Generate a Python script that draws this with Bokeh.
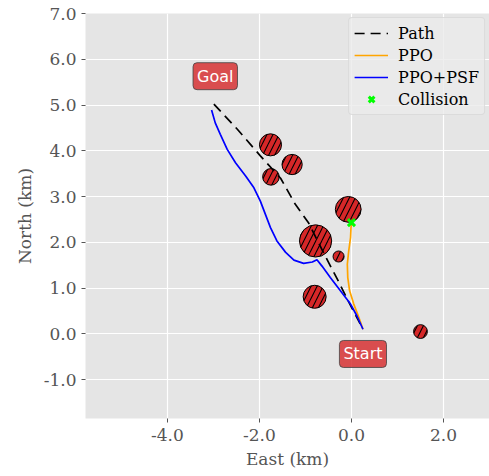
from bokeh.plotting import figure
from bokeh.models import FixedTicker, NumeralTickFormatter, Label, Legend, LegendItem, ColumnDataSource, Range1d
from bokeh.embed import file_html
from bokeh.resources import INLINE

# Data
path_e = [-2.99, -2.48, -1.98, -1.54, -1.22, -0.93, -0.58, -0.31, -0.06, 0.25]
path_n = [5.02, 4.47, 3.89, 3.40, 2.83, 2.42, 1.72, 1.20, 0.70, 0.10]

ppo_e = [0.25, 0.16, 0.05, -0.04, -0.08, -0.09, -0.06, -0.02, -0.01, 0.0]
ppo_n = [0.10, 0.36, 0.65, 0.94, 1.23, 1.52, 1.81, 2.10, 2.32, 2.43]

psf_e = [-3.04, -2.96, -2.85, -2.70, -2.52, -2.30, -2.12, -1.98, -1.87, -1.76, -1.62, -1.43,
         -1.25, -1.04, -0.85, -0.75, -0.64, -0.46, -0.24, -0.02, 0.12, 0.25]
psf_n = [4.89, 4.61, 4.36, 4.03, 3.74, 3.45, 3.19, 2.90, 2.61, 2.32, 2.03, 1.78,
         1.61, 1.54, 1.57, 1.62, 1.48, 1.23, 0.94, 0.65, 0.39, 0.10]

collision_e = [0.0]
collision_n = [2.43]

obs_e = [-1.76, -1.29, -1.75, -0.07, -0.78, -0.28, -0.80, 1.50]
obs_n = [4.13, 3.70, 3.43, 2.72, 2.03, 1.69, 0.81, 0.05]
obs_r = [0.24, 0.22, 0.18, 0.28, 0.35, 0.12, 0.25, 0.15]

goal = (-2.96, 5.63)
start = (0.25, -0.44)

x_ticks = [-4, -2, 0, 2]
y_ticks = [-1, 0, 1, 2, 3, 4, 5, 6, 7]

SERIF = "DejaVu Serif"
GRAY = "#555555"

p = figure(frame_width=404, frame_height=405, output_backend="svg", toolbar_location=None,
           x_range=Range1d(-5.78, 3.0), y_range=Range1d(-1.85, 7.0),
           min_border_left=85, min_border_right=0, min_border_top=13, min_border_bottom=58)
p.background_fill_color = "#E5E5E5"
p.border_fill_color = "white"
p.outline_line_color = None
p.grid.grid_line_color = "white"
p.grid.grid_line_width = 1.2

for ax in (p.xaxis, p.yaxis):
    ax.axis_line_color = None
    ax.major_tick_line_color = GRAY
    ax.major_tick_out = 4
    ax.major_tick_in = 0
    ax.minor_tick_line_color = None
    ax.major_label_text_font = SERIF
    ax.major_label_text_font_size = "17px"
    ax.major_label_text_color = GRAY
    ax.axis_label_text_font = SERIF
    ax.axis_label_text_font_size = "17px"
    ax.axis_label_text_color = GRAY
    ax.axis_label_text_font_style = "normal"
    ax.formatter = NumeralTickFormatter(format="0.0")

p.xaxis.ticker = FixedTicker(ticks=x_ticks)
p.yaxis.ticker = FixedTicker(ticks=y_ticks)
p.xgrid.ticker = FixedTicker(ticks=x_ticks)
p.ygrid.ticker = FixedTicker(ticks=y_ticks)
p.xaxis.axis_label = "East (km)"
p.yaxis.axis_label = "North (km)"
p.xaxis.major_label_standoff = 6
p.xaxis.axis_label_standoff = 5
p.yaxis.axis_label_standoff = 6

src = ColumnDataSource(dict(x=obs_e, y=obs_n, r=obs_r))
p.circle(x="x", y="y", radius="r", source=src, fill_color="#d62728", line_color="black",
         line_width=1, hatch_pattern="/", hatch_color="black", hatch_scale=12, hatch_weight=1.1)

r_path = p.line(path_e, path_n, line_color="black", line_width=1.7, line_dash="10 6")
r_ppo = p.line(ppo_e, ppo_n, line_color="orange", line_width=1.7)
r_psf = p.line(psf_e, psf_n, line_color="blue", line_width=1.7)
r_col = p.scatter(collision_e, collision_n, marker="x", size=10, line_color="#00ff00", line_width=3)

for txt, (lx, ly) in (("Goal", goal), ("Start", start)):
    p.add_layout(Label(x=lx, y=ly, text=txt, text_align="center", text_baseline="middle",
                       text_color="white", text_font="DejaVu Sans", text_font_size="16px",
                       background_fill_color="#d62728", background_fill_alpha=0.8,
                       border_line_color="#444444", border_line_alpha=0.8, border_radius=4,
                       padding=4))

legend = Legend(items=[
    LegendItem(label="Path", renderers=[r_path]),
    LegendItem(label="PPO", renderers=[r_ppo]),
    LegendItem(label="PPO+PSF", renderers=[r_psf]),
    LegendItem(label="Collision", renderers=[r_col]),
], location="top_right")
legend.label_text_font = SERIF
legend.label_text_font_size = "16px"
legend.label_text_color = "black"
legend.background_fill_color = "#EBEBEB"
legend.background_fill_alpha = 0.8
legend.border_line_color = "#CCCCCC"
legend.border_radius = 4
legend.margin = 4
legend.padding = 5
legend.spacing = 2
legend.label_height = 20
legend.glyph_width = 34
legend.label_standoff = 10
p.add_layout(legend)

open("out.html", "w").write(file_html(p, INLINE))
